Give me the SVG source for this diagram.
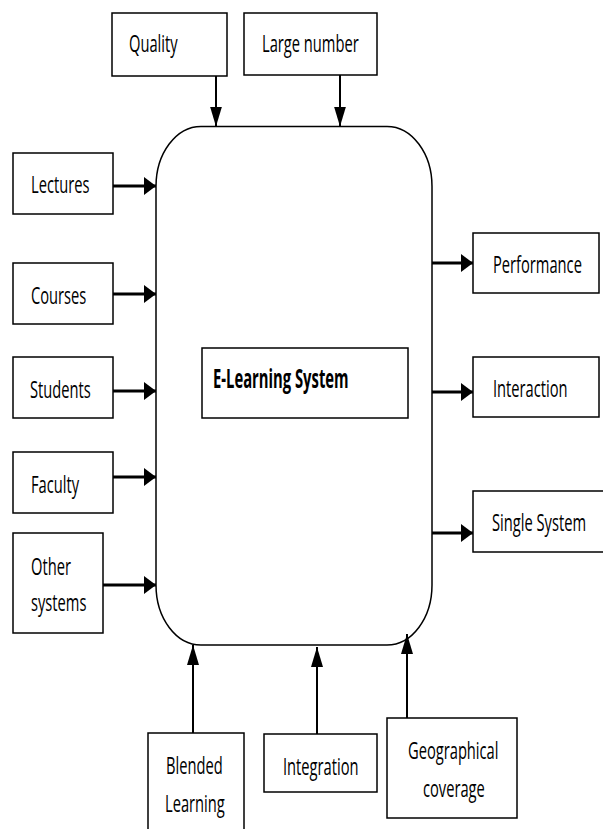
<svg xmlns="http://www.w3.org/2000/svg" width="603" height="829" viewBox="0 0 603 829">
<style>
.box{fill:#fff;stroke:#000;stroke-width:1.5}
.t{font-family:"Open Sans","Liberation Sans",sans-serif;font-size:14.7px;fill:#000}
.tb{font-family:"Open Sans","Liberation Sans",sans-serif;font-size:14.8px;font-weight:bold;fill:#000}
.ah{stroke:#000;stroke-width:3.2;fill:none}
.av{stroke:#000;stroke-width:2;fill:none}
</style>
<defs>
<marker id="mh" markerUnits="userSpaceOnUse" markerWidth="12" markerHeight="18" refX="12" refY="9" orient="auto"><path d="M0,0 L12,9 L0,18 Z" fill="#000"/></marker>
<marker id="mv" markerUnits="userSpaceOnUse" markerWidth="20" markerHeight="12" refX="20" refY="6" orient="auto"><path d="M0,0 L20,6 L0,12 Z" fill="#000"/></marker>
</defs>
<rect width="603" height="829" fill="#fff"/>
<g id="system">
<rect class="box" x="156" y="126.5" width="276" height="518.5" rx="45" ry="60"/>
</g>
<g id="elearning">
<rect class="box" x="202" y="348" width="206" height="70"/>
<text class="tb" transform="translate(213,388) scale(1,1.85)">E-Learning System</text>
</g>
<g id="quality">
<rect class="box" x="112" y="13" width="115" height="63"/>
<text class="t" transform="translate(129,52) scale(1,1.62)">Quality</text>
</g>
<g id="largenumber">
<rect class="box" x="244" y="13" width="133" height="62"/>
<text class="t" transform="translate(262,52) scale(1,1.62)">Large number</text>
</g>
<g id="lectures">
<rect class="box" x="13" y="153" width="100" height="61"/>
<text class="t" transform="translate(31,193) scale(1,1.62)">Lectures</text>
</g>
<g id="courses">
<rect class="box" x="13" y="263" width="100" height="61"/>
<text class="t" transform="translate(31,304) scale(1,1.62)">Courses</text>
</g>
<g id="students">
<rect class="box" x="13" y="357" width="100" height="61"/>
<text class="t" transform="translate(30,398) scale(1,1.62)">Students</text>
</g>
<g id="faculty">
<rect class="box" x="13" y="452" width="100" height="61"/>
<text class="t" transform="translate(31,493) scale(1,1.62)">Faculty</text>
</g>
<g id="othersystems">
<rect class="box" x="13" y="533" width="90" height="100"/>
<text class="t" transform="translate(31,575) scale(1,1.62)">Other</text>
<text class="t" transform="translate(31,611) scale(1,1.62)">systems</text>
</g>
<g id="performance">
<rect class="box" x="473" y="233" width="126" height="60"/>
<text class="t" transform="translate(493,273) scale(1,1.62)">Performance</text>
</g>
<g id="interaction">
<rect class="box" x="473" y="357" width="126" height="60"/>
<text class="t" transform="translate(493,397) scale(1,1.62)">Interaction</text>
</g>
<g id="singlesystem">
<rect class="box" x="473" y="491" width="150" height="61"/>
<text class="t" transform="translate(492,531) scale(1,1.62)">Single System</text>
</g>
<g id="blended">
<rect class="box" x="148" y="733" width="96" height="110"/>
<text class="t" transform="translate(166,774) scale(1,1.62)">Blended</text>
<text class="t" transform="translate(165,812) scale(1,1.62)">Learning</text>
</g>
<g id="integration">
<rect class="box" x="264" y="734" width="113" height="58"/>
<text class="t" transform="translate(283,775) scale(1,1.62)">Integration</text>
</g>
<g id="geographical">
<rect class="box" x="387" y="718" width="130" height="100"/>
<text class="t" transform="translate(408,759) scale(1,1.62)">Geographical</text>
<text class="t" transform="translate(423,797) scale(1,1.62)">coverage</text>
</g>
<g id="connectors">
<line class="av" x1="216" y1="76" x2="216" y2="126.5" marker-end="url(#mv)"/>
<line class="av" x1="340" y1="75" x2="340" y2="126.5" marker-end="url(#mv)"/>
<line class="ah" x1="113" y1="186" x2="156" y2="186" marker-end="url(#mh)"/>
<line class="ah" x1="113" y1="294" x2="156" y2="294" marker-end="url(#mh)"/>
<line class="ah" x1="113" y1="391" x2="156" y2="391" marker-end="url(#mh)"/>
<line class="ah" x1="113" y1="477" x2="156" y2="477" marker-end="url(#mh)"/>
<line class="ah" x1="103" y1="585" x2="156" y2="585" marker-end="url(#mh)"/>
<line class="ah" x1="432" y1="263" x2="473" y2="263" marker-end="url(#mh)"/>
<line class="ah" x1="432" y1="392" x2="473" y2="392" marker-end="url(#mh)"/>
<line class="ah" x1="432" y1="533" x2="473" y2="533" marker-end="url(#mh)"/>
<line class="av" x1="193" y1="733" x2="193" y2="645" marker-end="url(#mv)"/>
<line class="av" x1="317" y1="734" x2="317" y2="647" marker-end="url(#mv)"/>
<line class="av" x1="407" y1="718" x2="407" y2="634" marker-end="url(#mv)"/>
</g>
</svg>
